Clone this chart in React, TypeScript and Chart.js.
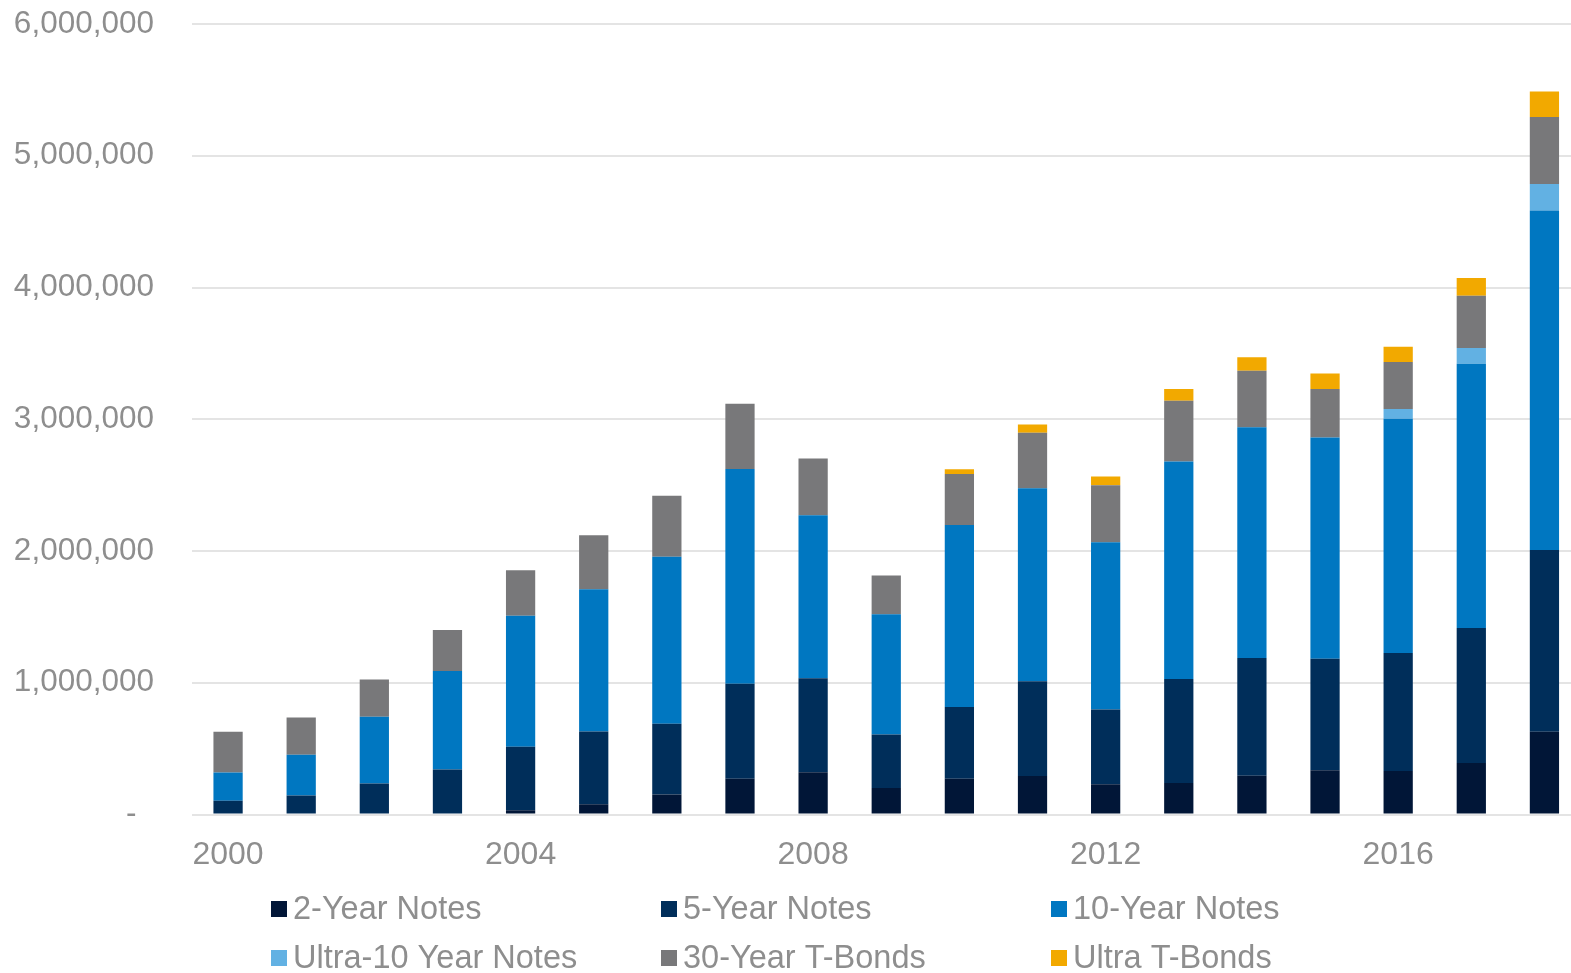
import React, { useEffect, useRef } from "react";
import { Chart, registerables } from "chart.js";

Chart.register(...registerables);

// Annual volume by contract, 2000–2018
const years = [
  "2000", "2001", "2002", "2003", "2004", "2005", "2006", "2007", "2008", "2009",
  "2010", "2011", "2012", "2013", "2014", "2015", "2016", "2017", "2018",
];

const twoYear = [
  0, 0, 8000, 0, 33000, 78000, 152000, 271000, 321000, 202000,
  271000, 293000, 230000, 240000, 295000, 336000, 331000, 391000, 628000,
];
const fiveYear = [
  104000, 144000, 227000, 342000, 481000, 552000, 537000, 721000, 714000, 405000,
  544000, 719000, 567000, 788000, 892000, 846000, 895000, 1025000, 1380000,
];
const tenYear = [
  215000, 309000, 507000, 747000, 995000, 1079000, 1268000, 1631000, 1237000, 913000,
  1383000, 1465000, 1270000, 1652000, 1752000, 1680000, 1777000, 2005000, 2576000,
];
const ultraTen = [
  0, 0, 0, 0, 0, 0, 0, 0, 0, 0,
  0, 0, 0, 0, 0, 0, 74000, 119000, 202000,
];
const thirtyYear = [
  309000, 284000, 283000, 311000, 344000, 410000, 463000, 494000, 430000, 294000,
  387000, 420000, 432000, 460000, 430000, 367000, 358000, 397000, 508000,
];
const ultraBond = [
  0, 0, 0, 0, 0, 0, 0, 0, 0, 0,
  36000, 63000, 66000, 89000, 102000, 118000, 116000, 135000, 193000,
];

const seriesNames = [
  "2-Year Notes",
  "5-Year Notes",
  "10-Year Notes",
  "Ultra-10 Year Notes",
  "30-Year T-Bonds",
  "Ultra T-Bonds",
];
const seriesColors = ["#011637", "#002e5a", "#0077c1", "#62b1e3", "#78787a", "#f2a900"];
const seriesValues = [twoYear, fiveYear, tenYear, ultraTen, thirtyYear, ultraBond];

const yTicks = [0, 1000000, 2000000, 3000000, 4000000, 5000000, 6000000];

const FONT_FAMILY = "'Liberation Sans', Arial, Helvetica, sans-serif";
const TEXT_COLOR = "#8e8e8e";

// Legend laid out as a fixed 3-column grid below the axis
const legendGrid = {
  columns: [271, 661, 1051],
  rows: [909, 958],
  box: 16,
  gap: 6,
  fontSize: 32.5,
};

const gridLegend = {
  id: "gridLegend",
  afterDraw(chart: Chart) {
    const { ctx } = chart;
    ctx.save();
    ctx.font = `${legendGrid.fontSize}px ${FONT_FAMILY}`;
    ctx.textBaseline = "middle";
    ctx.textAlign = "left";
    chart.data.datasets.forEach((ds, i) => {
      const col = i % legendGrid.columns.length;
      const row = Math.floor(i / legendGrid.columns.length);
      const x = legendGrid.columns[col];
      const y = legendGrid.rows[row];
      ctx.fillStyle = ds.backgroundColor as string;
      ctx.fillRect(x, y - legendGrid.box / 2, legendGrid.box, legendGrid.box);
      ctx.fillStyle = TEXT_COLOR;
      ctx.fillText(ds.label as string, x + legendGrid.box + legendGrid.gap, y + 1);
    });
    ctx.restore();
  },
};

export default function App() {
  const canvasRef = useRef<HTMLCanvasElement | null>(null);

  useEffect(() => {
    if (!canvasRef.current) return;
    const chart = new Chart(canvasRef.current, {
      type: "bar",
      data: {
        labels: years,
        datasets: seriesNames.map((name, i) => ({
          label: name,
          data: seriesValues[i],
          backgroundColor: seriesColors[i],
          borderWidth: 0,
          categoryPercentage: 1,
          barPercentage: 0.4,
        })),
      },
      options: {
        responsive: false,
        animation: false,
        devicePixelRatio: 1,
        layout: { padding: { top: 24, left: 0, right: 0, bottom: 0 } },
        plugins: {
          legend: { display: false },
          tooltip: { enabled: false },
        },
        scales: {
          x: {
            stacked: true,
            grid: { display: false, drawTicks: false },
            border: { display: false },
            ticks: {
              autoSkip: false,
              maxRotation: 0,
              minRotation: 0,
              padding: 21,
              color: TEXT_COLOR,
              font: { family: FONT_FAMILY, size: 32 },
              callback: (_v, i) => (i % 4 === 0 ? years[i] : ""),
            },
            afterFit: (scale: any) => {
              scale.height = 158.5;
              scale.paddingLeft = 0;
              scale.paddingRight = 0;
            },
          },
          y: {
            stacked: true,
            min: 0,
            max: 6000000,
            afterBuildTicks: (scale) => {
              scale.ticks = yTicks.map((v) => ({ value: v }));
            },
            grid: { color: "#e4e4e4", lineWidth: 2, drawTicks: false },
            border: { display: false },
            ticks: {
              padding: 37.5,
              color: TEXT_COLOR,
              font: { family: FONT_FAMILY, size: 31.5 },
              callback: (v) => (Number(v) === 0 ? "-  " : Number(v).toLocaleString("en-US")),
            },
            afterFit: (scale: any) => {
              scale.width = 191.5;
              scale.paddingTop = 0;
              scale.paddingBottom = 0;
            },
          },
        },
      },
      plugins: [gridLegend],
    });
    return () => chart.destroy();
  }, []);

  return (
    <div
      style={{
        position: "absolute",
        left: 0,
        top: 0,
        width: 1571,
        height: 973,
        overflow: "hidden",
        background: "#ffffff",
      }}
    >
      <canvas ref={canvasRef} width={1581} height={973} style={{ display: "block" }} />
    </div>
  );
}
